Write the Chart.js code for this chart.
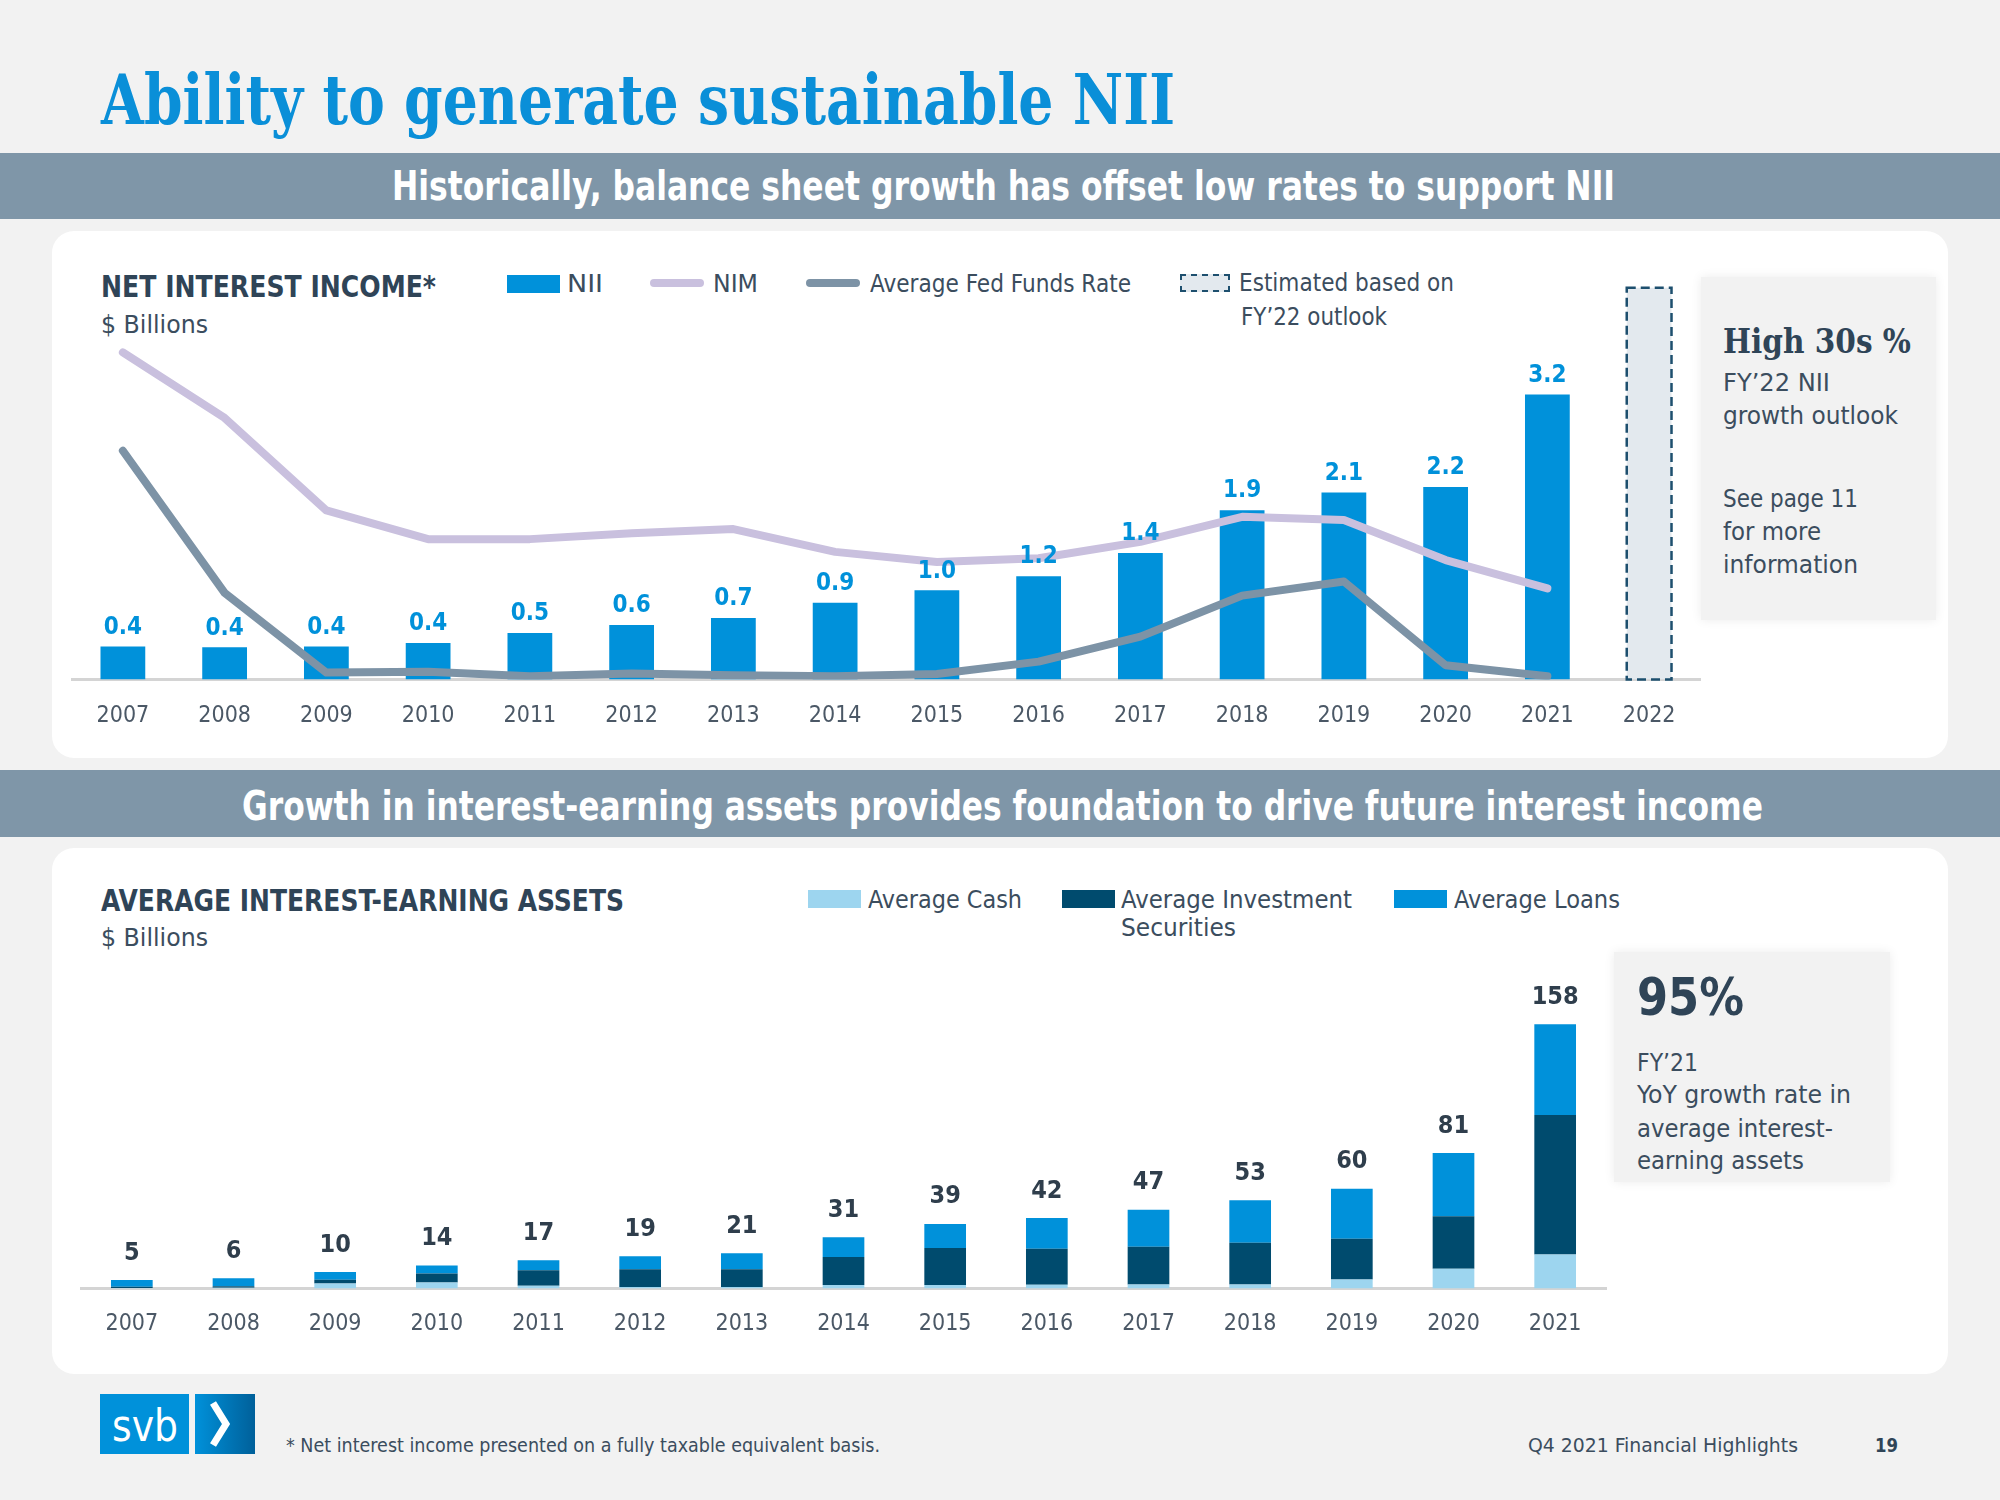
<!DOCTYPE html>
<html>
<head>
<meta charset="utf-8">
<script src="https://cdn.jsdelivr.net/npm/chart.js@4.4.1/dist/chart.umd.min.js"></script>
<style>
  html, body { margin: 0; padding: 0; }
  body { width: 2000px; height: 1500px; background: #f2f2f2; position: relative; overflow: hidden; color: #33475a; }
  .t { position: absolute; white-space: nowrap; line-height: 1; transform-origin: 0 50%; }
  .b { font-weight: bold; }
  .serif { font-family: "DejaVu Serif", serif; font-weight: bold; }
  .band { position: absolute; left: 0; width: 2000px; background: #7f96a8; }
  .card { position: absolute; left: 52px; width: 1896px; background: #fff; border-radius: 22px; }
  .panel { position: absolute; background: #f2f2f2; box-shadow: 0 0 10px rgba(0, 0, 0, .08); }
  .box { position: absolute; }
  canvas { position: absolute; }
</style>
</head>
<body>

<div class="t serif" data-w="1074" style="left:101px;top:65px;font-size:70px;color:#0a8fd8">Ability to generate sustainable NII</div>

<div class="band" style="top:153px;height:66px"></div>
<div class="t b" data-w="1223" style="left:392px;top:166px;font-size:40px;color:#fff">Historically, balance sheet growth has offset low rates to support NII</div>

<!-- top card -->
<div class="card" style="top:231px;height:527px"></div>
<div class="t b" data-w="335" style="left:101px;top:272px;font-size:30px;color:#2f4457">NET INTEREST INCOME*</div>
<div class="t" data-w="107" style="left:101px;top:312px;font-size:25px;color:#3b4d5e">$ Billions</div>

<div class="box" style="left:507px;top:275px;width:53px;height:18px;background:#0091da"></div>
<div class="t" data-w="36" style="left:567px;top:271px;font-size:25px;color:#3b4d5e">NII</div>
<div class="box" style="left:650px;top:279px;width:54px;height:8px;border-radius:4px;background:#c9c0de"></div>
<div class="t" data-w="45" style="left:713px;top:271px;font-size:25px;color:#3b4d5e">NIM</div>
<div class="box" style="left:806px;top:279px;width:54px;height:8px;border-radius:4px;background:#7d93a6"></div>
<div class="t" data-w="261" style="left:870px;top:271px;font-size:25px;color:#3b4d5e">Average Fed Funds Rate</div>
<div class="box" style="left:1180px;top:274px;width:46px;height:14px;background:#e3e9ee;border:2px dashed #1d4f6e"></div>
<div class="t" data-w="215" style="left:1239px;top:270px;font-size:25px;color:#3b4d5e">Estimated based on</div>
<div class="t" data-w="146" style="left:1241px;top:304px;font-size:25px;color:#3b4d5e">FY’22 outlook</div>

<div class="panel" style="left:1701px;top:277px;width:235px;height:343px"></div>
<div class="t serif" data-w="188" style="left:1723px;top:325px;font-size:33px;color:#2f4457">High 30s %</div>
<div class="t" data-w="107" style="left:1723px;top:370px;font-size:25px;color:#3b4d5e">FY’22 NII</div>
<div class="t" data-w="175" style="left:1723px;top:403px;font-size:25px;color:#3b4d5e">growth outlook</div>
<div class="t" data-w="135" style="left:1723px;top:486px;font-size:25px;color:#3b4d5e">See page 11</div>
<div class="t" data-w="98" style="left:1723px;top:519px;font-size:25px;color:#3b4d5e">for more</div>
<div class="t" data-w="135" style="left:1723px;top:552px;font-size:25px;color:#3b4d5e">information</div>

<canvas id="nii" width="1668" height="513" style="left:52px;top:240px"></canvas>

<div class="band" style="top:770px;height:67px"></div>
<div class="t b" data-w="1521" style="left:242px;top:786px;font-size:40px;color:#fff">Growth in interest-earning assets provides foundation to drive future interest income</div>

<!-- bottom card -->
<div class="card" style="top:848px;height:526px"></div>
<div class="t b" data-w="523" style="left:101px;top:886px;font-size:30px;color:#2f4457">AVERAGE INTEREST-EARNING ASSETS</div>
<div class="t" data-w="107" style="left:101px;top:925px;font-size:25px;color:#3b4d5e">$ Billions</div>

<div class="box" style="left:808px;top:890px;width:53px;height:18px;background:#9dd5ef"></div>
<div class="t" data-w="154" style="left:868px;top:887px;font-size:25px;color:#3b4d5e">Average Cash</div>
<div class="box" style="left:1062px;top:890px;width:53px;height:18px;background:#004b6e"></div>
<div class="t" data-w="231" style="left:1121px;top:887px;font-size:25px;color:#3b4d5e">Average Investment</div>
<div class="t" data-w="115" style="left:1121px;top:915px;font-size:25px;color:#3b4d5e">Securities</div>
<div class="box" style="left:1394px;top:890px;width:53px;height:18px;background:#0091da"></div>
<div class="t" data-w="166" style="left:1454px;top:887px;font-size:25px;color:#3b4d5e">Average Loans</div>

<div class="panel" style="left:1614px;top:952px;width:276px;height:230px"></div>
<div class="t b" data-w="107" style="left:1637px;top:971px;font-size:52px;color:#2f4457">95%</div>
<div class="t" data-w="61" style="left:1637px;top:1050px;font-size:25px;color:#3b4d5e">FY’21</div>
<div class="t" data-w="214" style="left:1637px;top:1082px;font-size:25px;color:#3b4d5e">YoY growth rate in</div>
<div class="t" data-w="196" style="left:1637px;top:1116px;font-size:25px;color:#3b4d5e">average interest-</div>
<div class="t" data-w="167" style="left:1637px;top:1148px;font-size:25px;color:#3b4d5e">earning assets</div>

<canvas id="assets" width="1565" height="420" style="left:61px;top:940px"></canvas>

<!-- footer -->
<div class="box" style="left:100px;top:1394px;width:89px;height:60px;background:#0091da"></div>
<div class="t" data-w="66" style="left:112px;top:1404px;font-size:44px;color:#fff">svb</div>
<div class="box" style="left:195px;top:1394px;width:60px;height:60px;background:linear-gradient(90deg,#0091da,#00609a)"></div>
<svg class="box" style="left:195px;top:1394px" width="60" height="60"><polyline points="18,9 31,30 18,51" fill="none" stroke="#fff" stroke-width="7"/></svg>
<div class="t" data-w="594" style="left:286px;top:1435px;font-size:20px;color:#3b4d5e">* Net interest income presented on a fully taxable equivalent basis.</div>
<div class="t" data-w="270" style="left:1528px;top:1435px;font-size:20px;color:#3b4d5e">Q4 2021 Financial Highlights</div>
<div class="t b" data-w="23" style="left:1875px;top:1435px;font-size:20px;color:#2f4457">19</div>

<script>
// ---- data ----
const years = ["2007", "2008", "2009", "2010", "2011", "2012", "2013", "2014", "2015", "2016", "2017", "2018", "2019", "2020", "2021", "2022"];
const niiValues = [0.37, 0.36, 0.37, 0.41, 0.52, 0.61, 0.69, 0.86, 1.0, 1.16, 1.42, 1.9, 2.1, 2.16, 3.2, null];
const niiEstimate = [null, null, null, null, null, null, null, null, null, null, null, null, null, null, null, 4.4];
const nimValues = [7.18, 5.74, 3.71, 3.08, 3.08, 3.21, 3.3, 2.8, 2.58, 2.66, 3.02, 3.57, 3.5, 2.62, 2.0, null];
const fedFundsValues = [5.02, 1.9, 0.15, 0.17, 0.07, 0.13, 0.09, 0.07, 0.12, 0.39, 0.94, 1.84, 2.15, 0.31, 0.07, null];

const assetYears = ["2007", "2008", "2009", "2010", "2011", "2012", "2013", "2014", "2015", "2016", "2017", "2018", "2019", "2020", "2021"];
const avgCash = [0.3, 0.4, 3.0, 3.6, 1.6, 0.8, 0.8, 2.0, 2.0, 2.2, 2.4, 2.4, 5.4, 11.7, 20.3];
const avgInvestments = [0.7, 0.9, 2.2, 5.3, 9.2, 10.6, 10.6, 16.8, 22.1, 21.5, 22.5, 24.9, 24.3, 31.5, 83.4];
const avgLoans = [4.0, 4.7, 4.6, 4.8, 6.0, 7.8, 9.6, 11.8, 14.5, 18.4, 22.1, 25.5, 29.9, 37.8, 54.3];

// pick a condensed sans if one is installed
function hasFont(name) {
  const c = document.createElement("canvas").getContext("2d");
  const s = "mmmmmmmmmmlli1WWW0123";
  return ["monospace", "serif"].some((b) => {
    c.font = "40px " + b;
    const a = c.measureText(s).width;
    c.font = `40px "${name}", ${b}`;
    return c.measureText(s).width !== a;
  });
}
const SANS = ["DejaVu Sans Condensed", "Liberation Sans Narrow", "Roboto Condensed", "Roboto"].find(hasFont) || "sans-serif";
document.body.style.fontFamily = `"${SANS}", sans-serif`;

// squeeze texts to the widths they have on the slide
document.querySelectorAll("[data-w]").forEach((el) => {
  const w = el.getBoundingClientRect().width;
  el.style.transform = `scaleX(${el.dataset.w / w})`;
});

Chart.defaults.font.family = `"${SANS}", sans-serif`;
Chart.defaults.animation = false;

/* labels above bars */
const valueLabels = {
  id: "valueLabels",
  afterDatasetsDraw(chart, args, opts) {
    const ctx = chart.ctx;
    const meta = chart.getDatasetMeta(opts.datasetIndex);
    ctx.save();
    ctx.font = `bold ${opts.size}px "${SANS}", sans-serif`;
    ctx.fillStyle = opts.color;
    ctx.textAlign = "center";
    ctx.textBaseline = "middle";
    meta.data.forEach((bar, i) => {
      const txt = opts.text(i);
      if (txt == null) return;
      ctx.fillText(txt, bar.x, bar.y - opts.offset);
    });
    ctx.restore();
  },
};

/* dashed outline for the FY'22 estimate */
const dashedEstimate = {
  id: "dashedEstimate",
  afterDatasetsDraw(chart) {
    const ctx = chart.ctx;
    const meta = chart.getDatasetMeta(1);
    meta.data.forEach((bar, i) => {
      if (niiEstimate[i] == null) return;
      const { x, y, base, width } = bar.getProps(["x", "y", "base", "width"], true);
      ctx.save();
      ctx.setLineDash([9, 5]);
      ctx.lineWidth = 2.5;
      ctx.strokeStyle = "#1d4f6e";
      ctx.strokeRect(x - width / 2, y, width, base - y);
      ctx.restore();
    });
  },
};

const tickStyle = { padding: 23, color: "#4b5866", font: { size: 23 } };
const xGrid = { display: false, drawTicks: false };

new Chart(document.getElementById("nii").getContext("2d"), {
  type: "bar",
  data: {
    labels: years,
    datasets: [
      { label: "NII", data: niiValues, backgroundColor: "#0091da", barPercentage: 0.44, categoryPercentage: 1, grouped: false, order: 2 },
      { label: "Estimated", data: niiEstimate, backgroundColor: "#e3e9ee", barPercentage: 0.44, categoryPercentage: 1, grouped: false, order: 3 },
      { type: "line", label: "NIM", data: nimValues, yAxisID: "y2", borderColor: "#c9c0de", borderWidth: 8, pointRadius: 0, borderCapStyle: "round", borderJoinStyle: "round", order: 0 },
      { type: "line", label: "Average Fed Funds Rate", data: fedFundsValues, yAxisID: "y2", borderColor: "#7d93a6", borderWidth: 8, pointRadius: 0, borderCapStyle: "round", borderJoinStyle: "round", order: 1 },
    ],
  },
  options: {
    responsive: false,
    layout: { padding: { left: 20, right: 20, top: 45, bottom: 0 } },
    scales: {
      x: { grid: xGrid, border: { display: true, color: "#d4d4d4", width: 3 }, ticks: tickStyle },
      y: { display: false, min: 0, max: 4.43 },
      y2: { display: false, min: 0, max: 8.66, position: "right" },
    },
    plugins: {
      legend: { display: false },
      tooltip: { enabled: false },
      valueLabels: {
        datasetIndex: 0,
        size: 24,
        color: "#0091da",
        offset: 19,
        text: (i) => (niiValues[i] == null ? null : niiValues[i].toFixed(1)),
      },
    },
  },
  plugins: [valueLabels, dashedEstimate],
});

new Chart(document.getElementById("assets").getContext("2d"), {
  type: "bar",
  data: {
    labels: assetYears,
    datasets: [
      { label: "Average Cash", data: avgCash, backgroundColor: "#9dd5ef", barPercentage: 0.41, categoryPercentage: 1 },
      { label: "Average Investment Securities", data: avgInvestments, backgroundColor: "#004b6e", barPercentage: 0.41, categoryPercentage: 1 },
      { label: "Average Loans", data: avgLoans, backgroundColor: "#0091da", barPercentage: 0.41, categoryPercentage: 1 },
    ],
  },
  options: {
    responsive: false,
    layout: { padding: { left: 20, right: 20, top: 20, bottom: 0 } },
    scales: {
      x: { stacked: true, grid: xGrid, border: { display: true, color: "#d4d4d4", width: 3 }, ticks: { ...tickStyle, padding: 22 } },
      y: { stacked: true, display: false, min: 0, max: 196.5 },
    },
    plugins: {
      legend: { display: false },
      tooltip: { enabled: false },
      valueLabels: {
        datasetIndex: 2,
        size: 25,
        color: "#2f3e4c",
        offset: 27,
        text: (i) => String(Math.round(avgCash[i] + avgInvestments[i] + avgLoans[i])),
      },
    },
  },
  plugins: [valueLabels],
});
</script>
</body>
</html>
